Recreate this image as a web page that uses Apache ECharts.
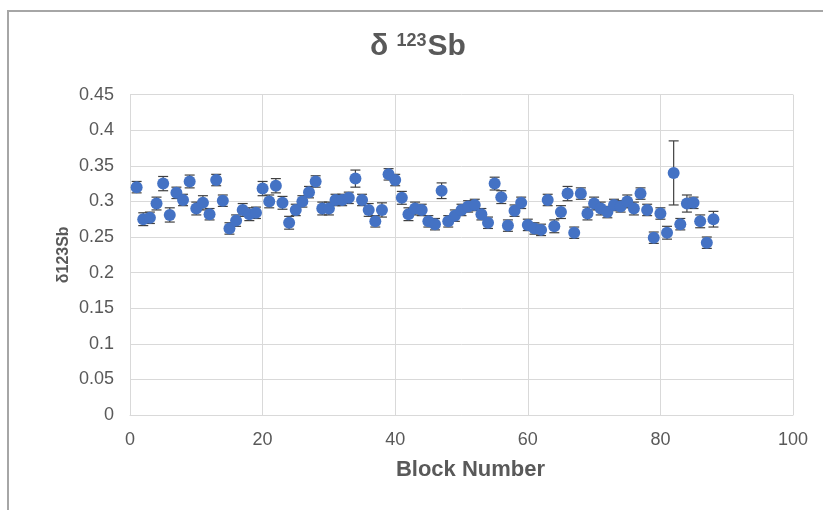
<!DOCTYPE html>
<html>
<head>
<meta charset="utf-8">
<script src="https://cdn.jsdelivr.net/npm/echarts@6/dist/echarts.min.js"></script>
<style>
  html, body { margin: 0; padding: 0; background: #fff; }
  #chart { width: 823px; height: 510px; }
</style>
</head>
<body>
<div id="chart"></div>
<script>
// block numbers 1..88
var blocks = [1,2,3,4,5,6,7,8,9,10,11,12,13,14,15,16,17,18,19,20,21,22,23,24,25,26,27,28,29,30,
  31,32,33,34,35,36,37,38,39,40,41,42,43,44,45,46,47,48,49,50,51,52,53,54,55,56,57,58,59,60,
  61,62,63,64,65,66,67,68,69,70,71,72,73,74,75,76,77,78,79,80,81,82,83,84,85,86,87,88];
var deltaSb = [0.320,0.275,0.277,0.297,0.325,0.281,0.312,0.302,0.328,0.290,
  0.298,0.282,0.330,0.301,0.262,0.273,0.288,0.282,0.284,0.318,
  0.300,0.322,0.298,0.270,0.288,0.300,0.313,0.328,0.290,0.290,
  0.302,0.302,0.305,0.332,0.302,0.288,0.272,0.288,0.338,0.330,
  0.305,0.282,0.290,0.288,0.272,0.268,0.315,0.272,0.280,0.288,
  0.293,0.295,0.282,0.270,0.325,0.306,0.266,0.287,0.298,0.267,
  0.262,0.260,0.302,0.265,0.285,0.311,0.256,0.311,0.283,0.297,
  0.290,0.285,0.295,0.293,0.300,0.290,0.311,0.288,0.249,0.283,
  0.256,0.340,0.268,0.297,0.298,0.272,0.242,0.275];
var errSb = [0.008,0.009,0.008,0.009,0.010,0.010,0.008,0.008,0.009,0.009,
  0.010,0.008,0.008,0.008,0.008,0.008,0.009,0.009,0.008,0.010,
  0.009,0.010,0.009,0.009,0.008,0.008,0.008,0.008,0.009,0.009,
  0.008,0.008,0.008,0.012,0.008,0.009,0.008,0.010,0.008,0.008,
  0.009,0.009,0.009,0.008,0.008,0.008,0.011,0.008,0.008,0.008,
  0.008,0.008,0.008,0.008,0.009,0.009,0.008,0.008,0.008,0.008,
  0.008,0.008,0.008,0.009,0.009,0.010,0.008,0.008,0.009,0.009,
  0.009,0.008,0.008,0.008,0.009,0.009,0.008,0.008,0.008,0.008,
  0.009,0.045,0.008,0.012,0.008,0.009,0.008,0.011];

var textColor = '#595959';
var font = '"Liberation Sans", Arial, sans-serif';

var points = blocks.map(function (b, i) { return [b, deltaSb[i]]; });
var bars = blocks.map(function (b, i) { return [b, deltaSb[i] - errSb[i], deltaSb[i] + errSb[i]]; });

var chart = echarts.init(document.getElementById('chart'));
chart.setOption({
  animation: false,
  backgroundColor: '#fff',
  graphic: [{
    type: 'rect',
    shape: { x: 8, y: 11, width: 830, height: 520 },
    style: { fill: 'none', stroke: '#a6a6a6', lineWidth: 2 },
    silent: true
  }],
  title: {
    text: '{a|δ }{sup|123}{a|Sb}',
    left: 365,
    top: 27,
    textStyle: {
      rich: {
        a: { fontSize: 30, fontWeight: 'bold', color: textColor, fontFamily: font },
        sup: { fontSize: 18, fontWeight: 'bold', color: textColor, fontFamily: font, verticalAlign: 'top', padding: [0, 1, 12, 0] }
      }
    }
  },
  grid: { left: 130, right: 30, top: 94.6, bottom: 95 },
  xAxis: {
    type: 'value',
    min: 0, max: 100, interval: 20,
    name: 'Block Number',
    nameLocation: 'middle',
    nameGap: 44,
    nameTextStyle: { fontSize: 22, fontWeight: 'bold', color: textColor, fontFamily: font, padding: [0, 0, 0, 18] },
    axisLine: { show: true, lineStyle: { color: '#d9d9d9' } },
    axisTick: { show: false },
    axisLabel: { fontSize: 18, color: textColor, fontFamily: font, margin: 16 },
    splitLine: { show: true, lineStyle: { color: '#d9d9d9' } }
  },
  yAxis: {
    type: 'value',
    min: 0, max: 0.45, interval: 0.05,
    name: 'δ123Sb',
    nameLocation: 'middle',
    nameGap: 58,
    nameMoveOverlap: false,
    nameTextStyle: { fontSize: 16, fontWeight: 'bold', color: textColor, fontFamily: font },
    axisLine: { show: false },
    axisTick: { show: false },
    axisLabel: {
      fontSize: 18, color: textColor, fontFamily: font, margin: 16,
      formatter: function (v) { return String(Math.round(v * 100) / 100); }
    },
    splitLine: { show: true, lineStyle: { color: '#d9d9d9' } }
  },
  series: [
    {
      type: 'custom',
      data: bars,
      z: 1,
      renderItem: function (params, api) {
        var x = api.value(0);
        var lo = api.coord([x, api.value(1)]);
        var hi = api.coord([x, api.value(2)]);
        var w = 5;
        var st = { stroke: '#404040', lineWidth: 1.2 };
        return {
          type: 'group',
          children: [
            { type: 'line', shape: { x1: lo[0], y1: lo[1], x2: hi[0], y2: hi[1] }, style: st },
            { type: 'line', shape: { x1: lo[0] - w, y1: lo[1], x2: lo[0] + w, y2: lo[1] }, style: st },
            { type: 'line', shape: { x1: hi[0] - w, y1: hi[1], x2: hi[0] + w, y2: hi[1] }, style: st }
          ]
        };
      }
    },
    {
      type: 'scatter',
      data: points,
      z: 2,
      symbol: 'circle',
      symbolSize: 12,
      itemStyle: { color: '#4472C4', opacity: 1 }
    }
  ]
});
</script>
</body>
</html>
